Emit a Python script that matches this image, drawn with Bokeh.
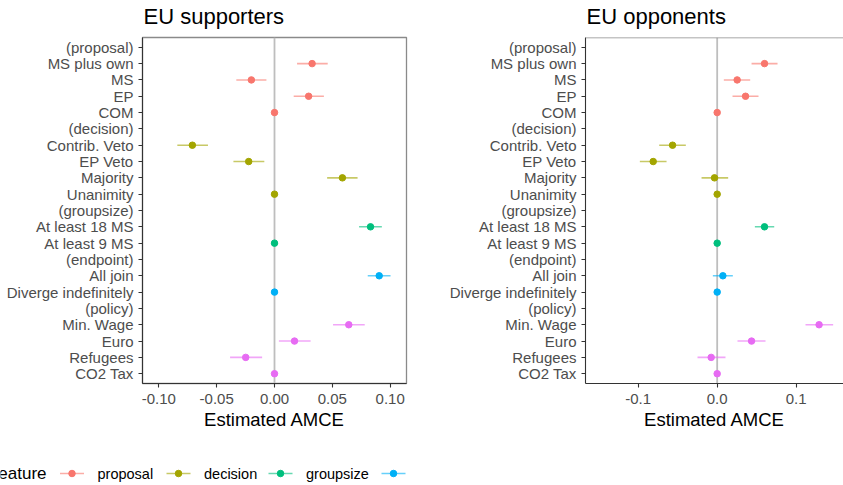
from bokeh.plotting import figure
from bokeh.layouts import column, row
from bokeh.models import Range1d, FixedTicker, NumeralTickFormatter, Span
from bokeh.embed import file_html
from bokeh.resources import INLINE
from bokeh.core.properties import value

FONT = "Liberation Sans"

# y-axis levels, top to bottom
levels = ["(proposal)", "MS plus own", "MS", "EP", "COM",
          "(decision)", "Contrib. Veto", "EP Veto", "Majority", "Unanimity",
          "(groupsize)", "At least 18 MS", "At least 9 MS",
          "(endpoint)", "All join", "Diverge indefinitely",
          "(policy)", "Min. Wage", "Euro", "Refugees", "CO2 Tax"]

features = ["proposal", "decision", "groupsize", "endpoint", "policy"]
feature_colors = ["#F8766D", "#A3A500", "#00BF7D", "#00B0F6", "#E76BF3"]

attr_levels = ["MS plus own", "MS", "EP", "COM",
               "Contrib. Veto", "EP Veto", "Majority", "Unanimity",
               "At least 18 MS", "At least 9 MS",
               "All join", "Diverge indefinitely",
               "Min. Wage", "Euro", "Refugees", "CO2 Tax"]
attr_feature = ["proposal"] * 4 + ["decision"] * 4 + ["groupsize"] * 2 + ["endpoint"] * 2 + ["policy"] * 4

panel_titles = ["EU supporters", "EU opponents"]

# EU supporters
sup_est = [0.0325, -0.020, 0.0295, 0.0, -0.071, -0.0223, 0.0587, 0.0,
           0.083, 0.0, 0.0905, 0.0, 0.0642, 0.0173, -0.0249, 0.0]
sup_lo = [0.0195, -0.033, 0.0166, 0.0, -0.084, -0.0355, 0.0455, 0.0,
          0.0731, 0.0, 0.0806, 0.0, 0.0506, 0.0038, -0.0384, 0.0]
sup_hi = [0.0460, -0.007, 0.0427, 0.0, -0.0575, -0.0088, 0.0718, 0.0,
          0.0928, 0.0, 0.1003, 0.0, 0.0780, 0.0312, -0.0107, 0.0]

# EU opponents
opp_est = [0.0599, 0.0253, 0.0359, 0.0, -0.0565, -0.081, -0.0034, 0.0,
           0.0599, 0.0, 0.0072, 0.0, 0.129, 0.0435, -0.0076, 0.0]
opp_lo = [0.0435, 0.0084, 0.0194, 0.0, -0.0734, -0.0979, -0.0198, 0.0,
          0.0477, 0.0, -0.0055, 0.0, 0.1118, 0.0257, -0.0249, 0.0]
opp_hi = [0.0764, 0.0418, 0.0523, 0.0, -0.0397, -0.0641, 0.0139, 0.0,
          0.0722, 0.0, 0.0198, 0.0, 0.1468, 0.0612, 0.0105, 0.0]

sup_ticks = [-0.10, -0.05, 0.0, 0.05, 0.10]
opp_ticks = [-0.1, 0.0, 0.1]

n = len(levels)
ypos = {lvl: n - 1 - i for i, lvl in enumerate(levels)}
color_of = dict(zip(features, feature_colors))

HEAD_H = 34
ROW_H = 421
TOP = 3


def panel(est, lo, hi, xr, ticks, fmt, width, mbl, mbr, right_open):
    p = figure(width=width, height=ROW_H, x_range=Range1d(*xr), y_range=Range1d(-0.6, n - 0.4),
               output_backend="svg", toolbar_location=None,
               min_border_left=mbl, min_border_right=mbr, min_border_top=TOP,
               min_border_bottom=ROW_H - TOP - 346)
    p.xgrid.visible = False
    p.ygrid.visible = False
    p.background_fill_color = "white"
    p.border_fill_color = "white"
    if right_open:
        p.outline_line_color = None
        p.add_layout(Span(location=n - 0.4, dimension="width", line_color="#8a8a8a", line_width=1.3))
    else:
        p.outline_line_color = "#8a8a8a"
        p.outline_line_width = 1.3

    zero = Span(location=0, dimension="height", line_color="#BEBEBE", line_width=1.8, level="underlay")
    p.add_layout(zero)

    ys = [ypos[l] for l in attr_levels]
    cols = [color_of[f] for f in attr_feature]
    p.segment(x0=lo, y0=ys, x1=hi, y1=ys, line_color=cols, line_alpha=0.6, line_width=1.6)
    p.scatter(x=est, y=ys, size=6.5, fill_color=cols, line_color=cols)

    p.yaxis.ticker = FixedTicker(ticks=list(range(n)))
    p.yaxis.major_label_overrides = {ypos[l]: l for l in levels}
    p.xaxis.ticker = FixedTicker(ticks=ticks)
    p.xaxis.formatter = NumeralTickFormatter(format=fmt)
    for ax in (p.xaxis[0], p.yaxis[0]):
        ax.axis_line_color = "#333333"
        ax.axis_line_width = 1.1
        ax.major_tick_line_color = "#333333"
        ax.major_tick_line_width = 1.1
        ax.major_tick_out = 4
        ax.major_tick_in = 0
        ax.minor_tick_line_color = None
        ax.major_label_text_font = FONT
        ax.major_label_text_font_size = "15px"
        ax.major_label_text_color = "#4D4D4D"
    p.yaxis.major_label_standoff = 5
    p.xaxis.major_label_standoff = 6
    p.xaxis.axis_label = "Estimated AMCE"
    p.xaxis.axis_label_text_font = FONT
    p.xaxis.axis_label_text_font_size = "18.5px"
    p.xaxis.axis_label_text_font_style = "normal"
    p.xaxis.axis_label_text_color = "black"
    p.xaxis.axis_label_standoff = 2
    return p


# header strip with the panel titles
ph = figure(width=843, height=HEAD_H, x_range=Range1d(0, 843), y_range=Range1d(0, HEAD_H),
            x_axis_location=None, y_axis_location=None, min_border=0,
            output_backend="svg", toolbar_location=None)
ph.xgrid.visible = False
ph.ygrid.visible = False
ph.outline_line_color = None
ph.text(x=[143, 586], y=[HEAD_H - 16, HEAD_H - 16], text=panel_titles, text_font=value(FONT),
        text_font_size="22px", text_align="left", text_baseline="middle", text_color="black")

p1 = panel(sup_est, sup_lo, sup_hi, (-0.1141, 0.1141), sup_ticks, "0.00", 428, 142, 22, False)
p2 = panel(opp_est, opp_lo, opp_hi, (-0.1667, 0.1599), opp_ticks, "0.0", 415, 157, 0, True)

# legend strip (cut off like the original: only the first keys are visible)
LEG_H = 485 - HEAD_H - ROW_H
pl = figure(width=410, height=LEG_H, x_range=Range1d(0, 410), y_range=Range1d(0, LEG_H),
            x_axis_location=None, y_axis_location=None, min_border=0,
            output_backend="svg", toolbar_location=None)
pl.xgrid.visible = False
pl.ygrid.visible = False
pl.outline_line_color = None
key_centers = [71.5, 178, 280, 393]
n_keys = len(key_centers)
n_labels = 3
ly = LEG_H - 18
pl.text(x=[46], y=[ly], text=["Feature"], text_font=value(FONT), text_font_size="17px",
        text_align="right", text_baseline="middle", text_color="black")
pl.segment(x0=[c - 12 for c in key_centers], y0=[ly] * n_keys, x1=[c + 12 for c in key_centers],
           y1=[ly] * n_keys, line_color=feature_colors[:n_keys], line_alpha=0.6, line_width=1.6)
pl.scatter(x=key_centers, y=[ly] * n_keys, size=6.5, fill_color=feature_colors[:n_keys],
           line_color=feature_colors[:n_keys])
pl.text(x=[c + 25.5 for c in key_centers[:n_labels]], y=[ly] * n_labels, text=features[:n_labels],
        text_font=value(FONT), text_font_size="14.5px", text_align="left", text_baseline="middle",
        text_color="black")

layout = column(ph, row(p1, p2), pl)
open("out.html", "w").write(file_html(layout, INLINE))
